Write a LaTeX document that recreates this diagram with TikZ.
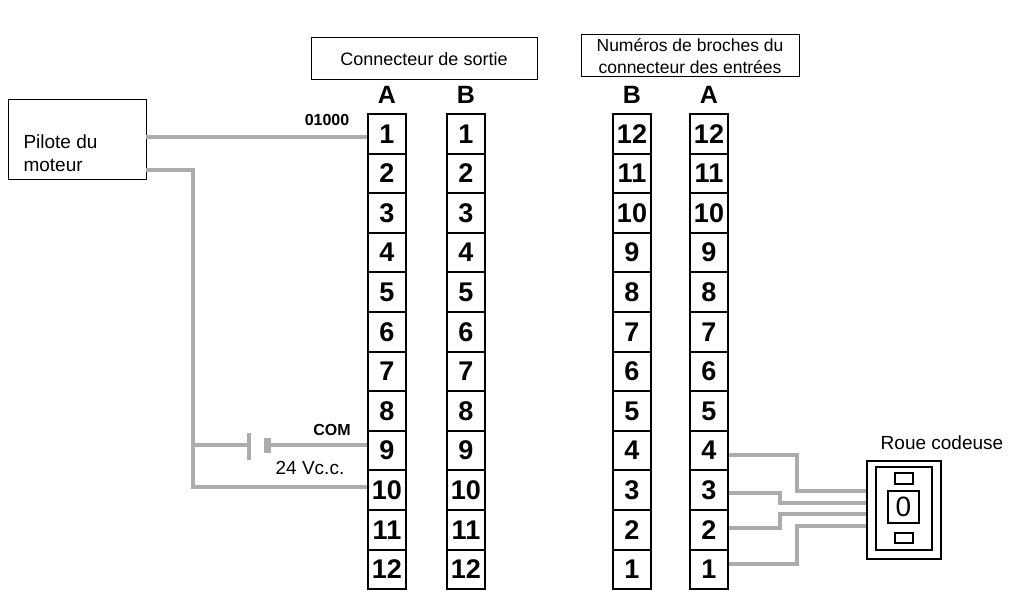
\documentclass[tikz,border=0pt]{standalone}
\usepackage{fontspec}
\setmainfont{Liberation Sans}
\begin{document}
\begin{tikzpicture}[x=1pt,y=-1pt,
  cell/.style={draw,line width=2pt,minimum width=38pt,minimum height=39.6pt,inner sep=0pt,font=\fontsize{27}{27}\selectfont\bfseries},
  hdr/.style={font=\fontsize{25}{25}\selectfont\bfseries},
  lbl/.style={font=\fontsize{19}{23}\selectfont,align=left},
  wire/.style={draw=gray!65,line width=3.4pt},
  box/.style={draw,line width=1pt}]
\useasboundingbox (0,0) rectangle (1021,593);
% headers
\node[box,minimum width=226pt,minimum height=42pt,font=\fontsize{18}{22}\selectfont] (hs) at (424,59) {Connecteur de sortie};
\node[box,minimum width=218pt,minimum height=42pt,font=\fontsize{17.5}{22}\selectfont,align=center,inner sep=1pt] (he) at (690,56) {Numéros de broches du\\connecteur des entrées};
\node[hdr] (hA1) at (387,95) {A};
\node[hdr] (hB1) at (466,95) {B};
\node[hdr] (hB2) at (632,95) {B};
\node[hdr] (hA2) at (709,95) {A};
% cells
\foreach \i in {1,...,12}{
  \pgfmathsetmacro\y{114+39.6*(\i-0.5)}
  \pgfmathtruncatemacro\j{13-\i}
  \node[cell] (la\i) at (387,\y) {\i};
  \node[cell] (lb\i) at (466,\y) {\i};
  \node[cell] (rb\j) at (632,\y) {\j};
  \node[cell] (ra\j) at (709,\y) {\j};
}
% pilote
\node[box,minimum width=138pt,minimum height=80pt] (pil) at (77,140) {};
\node[lbl,anchor=west] (piltxt) at (20,153) {Pilote du\\moteur};
\coordinate (p1) at (146,137);
\coordinate (p2) at (146,170);
\draw[wire] (p1) -- (la1.west |- p1);
\node[font=\fontsize{16}{16}\selectfont\bfseries] (o1) at (327,120) {01000};
\coordinate (bl) at (249,445);
\coordinate (bs) at (267,445);
\draw[wire] (p2) -- (193,170) -- (193,487) -- (la10.west |- 0,487);
\draw[wire] (193,445) -- (bl);
\draw[wire] (249,433) -- (249,460);
\draw[draw=gray!65,line width=7pt] (267,438) -- (267,453);
\draw[wire] (bs) -- (la9.west |- bs);
\node[font=\fontsize{16}{16}\selectfont\bfseries] (com) at (332,430) {COM};
\node[font=\fontsize{19}{19}\selectfont] (v24) at (310,468) {24 Vc.c.};
% roue codeuse
\node[lbl] (rct) at (942,443) {Roue codeuse};
\node[box,line width=1.5pt,minimum width=74pt,minimum height=98pt] (rc) at (904,510) {};
\node[box,line width=1.5pt,minimum width=56pt,minimum height=83pt] (rci) at (904,508.5) {};
\node[box,line width=1.2pt,minimum width=18pt,minimum height=11pt,inner sep=0pt] (rt) at (904,478.5) {};
\node[box,line width=1.2pt,minimum width=31pt,minimum height=32pt,inner sep=0pt,font=\fontsize{28}{28}\selectfont] (rw) at (903.5,507) {0};
\node[box,line width=1.2pt,minimum width=18pt,minimum height=10pt,inner sep=0pt] (rb) at (904,538) {};
\draw[wire] (ra4.east |- 0,455) -- (797,455) -- (797,491) -- (rc.west |- 0,491);
\draw[wire] (ra3.east |- 0,493) -- (780,493) -- (780,503) -- (rc.west |- 0,503);
\draw[wire] (ra2.east |- 0,528) -- (780,528) -- (780,514) -- (rc.west |- 0,514);
\draw[wire] (ra1.east |- 0,564) -- (797,564) -- (797,526) -- (rc.west |- 0,526);
\end{tikzpicture}
\end{document}
